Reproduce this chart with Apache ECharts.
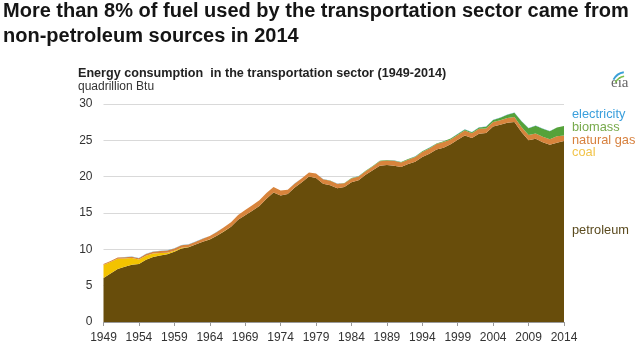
<!DOCTYPE html>
<html>
<head>
<meta charset="utf-8">
<script src="https://cdn.jsdelivr.net/npm/echarts@6/dist/echarts.min.js"></script>
<style>html,body{margin:0;padding:0;background:#fff;}#chart{width:643px;height:346px;}</style>
</head>
<body>
<div id="chart"></div>
<script>
const years = [];
for (let y = 1949; y <= 2014; y++) years.push(String(y));

const petroleum = [6.05,6.69,7.30,7.62,7.88,7.98,8.55,8.96,9.14,9.33,9.66,10.13,10.29,10.65,11.04,11.37,11.87,12.47,13.10,14.06,14.70,15.31,15.98,16.97,17.83,17.40,17.61,18.51,19.24,20.04,19.83,19.01,18.81,18.42,18.59,19.22,19.50,20.25,20.87,21.50,21.60,21.50,21.33,21.75,22.06,22.69,23.15,23.74,23.98,24.46,25.07,25.68,25.32,25.91,26.01,26.91,27.16,27.43,27.54,26.14,25.01,25.22,24.75,24.38,24.68,24.92];
const coal = [1.80,1.56,1.42,1.12,0.92,0.62,0.57,0.45,0.34,0.20,0.14,0.08,0.02,0.01,0.01,0.01,0.01,0.01,0,0,0,0,0,0,0,0,0,0,0,0,0,0,0,0,0,0,0,0,0,0,0,0,0,0,0,0,0,0,0,0,0,0,0,0,0,0,0,0,0,0,0,0,0,0,0,0];
const naturalGas = [0.12,0.13,0.15,0.17,0.18,0.19,0.25,0.27,0.29,0.31,0.33,0.36,0.37,0.40,0.42,0.46,0.52,0.56,0.61,0.66,0.71,0.75,0.77,0.77,0.74,0.68,0.59,0.56,0.54,0.54,0.60,0.65,0.64,0.60,0.51,0.54,0.52,0.50,0.54,0.62,0.63,0.68,0.62,0.59,0.64,0.70,0.72,0.74,0.78,0.67,0.68,0.67,0.66,0.70,0.63,0.60,0.62,0.63,0.66,0.69,0.72,0.72,0.73,0.78,0.89,0.76];
const biomass = [0,0,0,0,0,0,0,0,0,0,0,0,0,0,0,0,0,0,0,0,0,0,0,0,0,0,0,0,0,0,0,0,0.01,0.02,0.03,0.04,0.05,0.05,0.06,0.06,0.06,0.06,0.07,0.08,0.09,0.10,0.11,0.08,0.10,0.11,0.12,0.14,0.14,0.17,0.24,0.29,0.34,0.47,0.59,0.81,0.93,1.07,1.12,1.09,1.18,1.28];
const electricity = [0.02,0.02,0.02,0.02,0.02,0.02,0.02,0.02,0.02,0.02,0.02,0.01,0.01,0.01,0.01,0.01,0.01,0.01,0.01,0.01,0.01,0.01,0.01,0.01,0.01,0.01,0.01,0.01,0.01,0.01,0.01,0.01,0.01,0.01,0.01,0.01,0.01,0.01,0.01,0.01,0.01,0.01,0.01,0.01,0.01,0.02,0.02,0.02,0.02,0.02,0.02,0.02,0.02,0.02,0.02,0.03,0.03,0.03,0.03,0.03,0.03,0.03,0.03,0.03,0.03,0.03];
const yTicks = [0,5,10,15,20,25,30];

const colors = {
  petroleum: '#684d0b',
  coal: '#f3c300',
  naturalGas: '#d8843c',
  biomass: '#55a23a',
  electricity: '#4ea8dc'
};

function areaSeries(name, data, color) {
  return {
    name: name, type: 'line', stack: 'total', data: data,
    symbol: 'none', smooth: false,
    lineStyle: { width: 0 },
    areaStyle: { color: color, opacity: 1 },
    itemStyle: { color: color },
    emphasis: { disabled: true }
  };
}

const chart = echarts.init(document.getElementById('chart'), null, { renderer: 'canvas' });
const font = 'Liberation Sans, Arial, sans-serif';
const lab = '12.8px Liberation Sans, Arial, sans-serif';
chart.setOption({
  animation: false,
  backgroundColor: '#fff',
  title: {
    text: 'More than 8% of fuel used by the transportation sector came from\nnon-petroleum sources in 2014',
    left: 3, top: -1, padding: 0,
    textStyle: { fontFamily: font, fontWeight: 'bold', fontSize: 20, lineHeight: 25, color: '#151515' }
  },
  grid: { left: 103.5, right: 79, top: 104, bottom: 24, containLabel: false },
  xAxis: {
    type: 'category', data: years, boundaryGap: false,
    axisLine: { lineStyle: { color: '#999', width: 1 } },
    axisTick: { interval: 4, length: 4, lineStyle: { color: '#999' } },
    axisLabel: { interval: 4, color: '#333', fontFamily: font, fontSize: 12, margin: 10 },
    splitLine: { show: false }
  },
  yAxis: {
    type: 'value', min: yTicks[0], max: yTicks[yTicks.length - 1], interval: 5,
    axisLine: { show: false }, axisTick: { show: false },
    axisLabel: { color: '#333', fontFamily: font, fontSize: 12, margin: 11 },
    splitLine: { lineStyle: { color: '#d9d9d9', width: 1 } }
  },
  series: [
    areaSeries('petroleum', petroleum, colors.petroleum),
    areaSeries('coal', coal, colors.coal),
    areaSeries('natural gas', naturalGas, colors.naturalGas),
    areaSeries('biomass', biomass, colors.biomass),
    areaSeries('electricity', electricity, colors.electricity)
  ],
  graphic: [
    { type: 'text', left: 78, top: 67, style: { text: 'Energy consumption  in the transportation sector (1949-2014)', font: 'bold 12.6px Liberation Sans, Arial, sans-serif', fill: '#222' } },
    { type: 'text', left: 78, top: 81, style: { text: 'quadrillion Btu', font: '12px Liberation Sans, Arial, sans-serif', fill: '#333' } },
    { type: 'text', left: 572, top: 107.5, style: { text: 'electricity', font: lab, fill: '#3a9fdc' } },
    { type: 'text', left: 572, top: 120.5, style: { text: 'biomass', font: lab, fill: '#78aa4c' } },
    { type: 'text', left: 572, top: 133.5, style: { text: 'natural gas', font: lab, fill: '#d7803e' } },
    { type: 'text', left: 572, top: 146, style: { text: 'coal', font: lab, fill: '#f2c44a' } },
    { type: 'text', left: 572, top: 224, style: { text: 'petroleum', font: lab, fill: '#5a4a1e' } },
    { type: 'text', left: 611, top: 76, style: { text: 'eia', font: '15px Liberation Serif, serif', fill: '#666' } },
    { type: 'arc', shape: { cx: 626, cy: 86, r: 14, startAngle: Math.PI * 1.15, endAngle: Math.PI * 1.45 }, style: { stroke: '#3aa0d8', lineWidth: 2, fill: null } },
    { type: 'arc', shape: { cx: 626, cy: 88, r: 12, startAngle: Math.PI * 1.15, endAngle: Math.PI * 1.45 }, style: { stroke: '#7cc04a', lineWidth: 1.5, fill: null } }
  ]
});
</script>
</body>
</html>
